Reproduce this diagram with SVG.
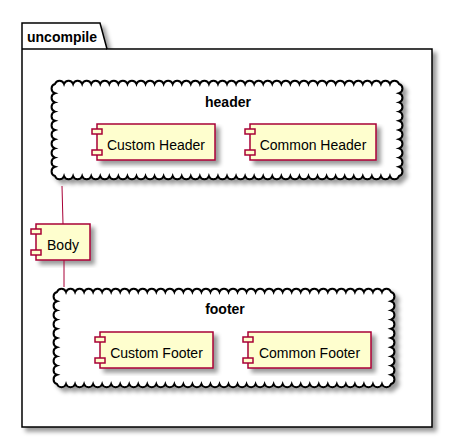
<svg xmlns="http://www.w3.org/2000/svg" width="453" height="438" viewBox="0 0 453 438">
<defs>
<filter id="sh" x="-10%" y="-10%" width="130%" height="130%">
<feGaussianBlur in="SourceAlpha" stdDeviation="2" result="b"/>
<feColorMatrix in="b" type="matrix" values="0 0 0 0 0  0 0 0 0 0  0 0 0 0 0  0 0 0 0.4 0" result="c"/>
<feOffset in="c" dx="4" dy="4" result="o"/>
<feMerge><feMergeNode in="o"/><feMergeNode in="SourceGraphic"/></feMerge>
</filter>
</defs>
<style>
.pkg{fill:#FFFFFF;stroke:#000000;stroke-width:1.5}
.cloud{fill:#FFFFFF;stroke:#000000;stroke-width:2}
.comp rect{fill:#FEFECE;stroke:#A80036;stroke-width:1.5}
.lbl{font-family:"Liberation Sans",Arial,sans-serif;font-size:14px;fill:#000000}
.ttl{font-family:"Liberation Sans",Arial,sans-serif;font-size:14px;font-weight:bold;fill:#000000}
.conn line{stroke:#A80036;stroke-width:1}
</style>

<g id="uncompile">
<path class="pkg" filter="url(#sh)" d="M22,23 H100 L107,49 H432 V427 H22 Z"/>
<line x1="22" y1="49" x2="107" y2="49" stroke="#000" stroke-width="1.5"/>
<text class="ttl" x="27" y="42">uncompile</text>
</g>

<g id="header">
<path class="cloud" filter="url(#sh)" d="M55,84
a4.8 4.8 0 0 1 9.053 0 a4.8 4.8 0 0 1 9.053 0 a4.8 4.8 0 0 1 9.053 0 a4.8 4.8 0 0 1 9.053 0 a4.8 4.8 0 0 1 9.053 0
a4.8 4.8 0 0 1 9.053 0 a4.8 4.8 0 0 1 9.053 0 a4.8 4.8 0 0 1 9.053 0 a4.8 4.8 0 0 1 9.053 0 a4.8 4.8 0 0 1 9.053 0
a4.8 4.8 0 0 1 9.053 0 a4.8 4.8 0 0 1 9.053 0 a4.8 4.8 0 0 1 9.053 0 a4.8 4.8 0 0 1 9.053 0 a4.8 4.8 0 0 1 9.053 0
a4.8 4.8 0 0 1 9.053 0 a4.8 4.8 0 0 1 9.053 0 a4.8 4.8 0 0 1 9.053 0 a4.8 4.8 0 0 1 9.053 0 a4.8 4.8 0 0 1 9.053 0
a4.8 4.8 0 0 1 9.053 0 a4.8 4.8 0 0 1 9.053 0 a4.8 4.8 0 0 1 9.053 0 a4.8 4.8 0 0 1 9.053 0 a4.8 4.8 0 0 1 9.053 0
a4.8 4.8 0 0 1 9.053 0 a4.8 4.8 0 0 1 9.053 0 a4.8 4.8 0 0 1 9.053 0 a4.8 4.8 0 0 1 9.053 0 a4.8 4.8 0 0 1 9.053 0
a4.8 4.8 0 0 1 9.053 0 a4.8 4.8 0 0 1 9.053 0 a4.8 4.8 0 0 1 9.053 0 a4.8 4.8 0 0 1 9.053 0 a4.8 4.8 0 0 1 9.053 0
a4.8 4.8 0 0 1 9.053 0 a4.8 4.8 0 0 1 9.053 0 a4.8 4.8 0 0 1 9.053 0
a4.8 4.8 0 0 1 0 9.2 a4.8 4.8 0 0 1 0 9.2 a4.8 4.8 0 0 1 0 9.2 a4.8 4.8 0 0 1 0 9.2 a4.8 4.8 0 0 1 0 9.2
a4.8 4.8 0 0 1 0 9.2 a4.8 4.8 0 0 1 0 9.2 a4.8 4.8 0 0 1 0 9.2 a4.8 4.8 0 0 1 0 9.2 a4.8 4.8 0 0 1 0 9.2
a4.8 4.8 0 0 1 -9.053 0 a4.8 4.8 0 0 1 -9.053 0 a4.8 4.8 0 0 1 -9.053 0 a4.8 4.8 0 0 1 -9.053 0 a4.8 4.8 0 0 1 -9.053 0
a4.8 4.8 0 0 1 -9.053 0 a4.8 4.8 0 0 1 -9.053 0 a4.8 4.8 0 0 1 -9.053 0 a4.8 4.8 0 0 1 -9.053 0 a4.8 4.8 0 0 1 -9.053 0
a4.8 4.8 0 0 1 -9.053 0 a4.8 4.8 0 0 1 -9.053 0 a4.8 4.8 0 0 1 -9.053 0 a4.8 4.8 0 0 1 -9.053 0 a4.8 4.8 0 0 1 -9.053 0
a4.8 4.8 0 0 1 -9.053 0 a4.8 4.8 0 0 1 -9.053 0 a4.8 4.8 0 0 1 -9.053 0 a4.8 4.8 0 0 1 -9.053 0 a4.8 4.8 0 0 1 -9.053 0
a4.8 4.8 0 0 1 -9.053 0 a4.8 4.8 0 0 1 -9.053 0 a4.8 4.8 0 0 1 -9.053 0 a4.8 4.8 0 0 1 -9.053 0 a4.8 4.8 0 0 1 -9.053 0
a4.8 4.8 0 0 1 -9.053 0 a4.8 4.8 0 0 1 -9.053 0 a4.8 4.8 0 0 1 -9.053 0 a4.8 4.8 0 0 1 -9.053 0 a4.8 4.8 0 0 1 -9.053 0
a4.8 4.8 0 0 1 -9.053 0 a4.8 4.8 0 0 1 -9.053 0 a4.8 4.8 0 0 1 -9.053 0 a4.8 4.8 0 0 1 -9.053 0 a4.8 4.8 0 0 1 -9.053 0
a4.8 4.8 0 0 1 -9.053 0 a4.8 4.8 0 0 1 -9.053 0 a4.8 4.8 0 0 1 -9.053 0
a4.8 4.8 0 0 1 0 -9.2 a4.8 4.8 0 0 1 0 -9.2 a4.8 4.8 0 0 1 0 -9.2 a4.8 4.8 0 0 1 0 -9.2 a4.8 4.8 0 0 1 0 -9.2
a4.8 4.8 0 0 1 0 -9.2 a4.8 4.8 0 0 1 0 -9.2 a4.8 4.8 0 0 1 0 -9.2 a4.8 4.8 0 0 1 0 -9.2 a4.8 4.8 0 0 1 0 -9.2 Z"/>
<text class="ttl" x="228" y="107" text-anchor="middle">header</text>
</g>

<g id="custom_header" class="comp">
<rect x="97" y="124" width="118" height="36" filter="url(#sh)"/>
<rect x="92" y="129" width="10" height="5"/>
<rect x="92" y="150" width="10" height="5"/>
<text class="lbl" x="156" y="150" text-anchor="middle">Custom Header</text>
</g>

<g id="common_header" class="comp">
<rect x="250" y="124" width="126" height="36" filter="url(#sh)"/>
<rect x="245" y="129" width="10" height="5"/>
<rect x="245" y="150" width="10" height="5"/>
<text class="lbl" x="313" y="150" text-anchor="middle">Common Header</text>
</g>

<g id="body" class="comp">
<rect x="36" y="224" width="54" height="36" filter="url(#sh)"/>
<rect x="31" y="229" width="10" height="5"/>
<rect x="31" y="250" width="10" height="5"/>
<text class="lbl" x="63" y="250" text-anchor="middle">Body</text>
</g>

<g id="footer">
<path class="cloud" filter="url(#sh)" d="M57,292
a4.8 4.8 0 0 1 9.027 0 a4.8 4.8 0 0 1 9.027 0 a4.8 4.8 0 0 1 9.027 0 a4.8 4.8 0 0 1 9.027 0 a4.8 4.8 0 0 1 9.027 0
a4.8 4.8 0 0 1 9.027 0 a4.8 4.8 0 0 1 9.027 0 a4.8 4.8 0 0 1 9.027 0 a4.8 4.8 0 0 1 9.027 0 a4.8 4.8 0 0 1 9.027 0
a4.8 4.8 0 0 1 9.027 0 a4.8 4.8 0 0 1 9.027 0 a4.8 4.8 0 0 1 9.027 0 a4.8 4.8 0 0 1 9.027 0 a4.8 4.8 0 0 1 9.027 0
a4.8 4.8 0 0 1 9.027 0 a4.8 4.8 0 0 1 9.027 0 a4.8 4.8 0 0 1 9.027 0 a4.8 4.8 0 0 1 9.027 0 a4.8 4.8 0 0 1 9.027 0
a4.8 4.8 0 0 1 9.027 0 a4.8 4.8 0 0 1 9.027 0 a4.8 4.8 0 0 1 9.027 0 a4.8 4.8 0 0 1 9.027 0 a4.8 4.8 0 0 1 9.027 0
a4.8 4.8 0 0 1 9.027 0 a4.8 4.8 0 0 1 9.027 0 a4.8 4.8 0 0 1 9.027 0 a4.8 4.8 0 0 1 9.027 0 a4.8 4.8 0 0 1 9.027 0
a4.8 4.8 0 0 1 9.027 0 a4.8 4.8 0 0 1 9.027 0 a4.8 4.8 0 0 1 9.027 0 a4.8 4.8 0 0 1 9.027 0 a4.8 4.8 0 0 1 9.027 0
a4.8 4.8 0 0 1 9.027 0 a4.8 4.8 0 0 1 9.027 0
a4.8 4.8 0 0 1 0 9.2 a4.8 4.8 0 0 1 0 9.2 a4.8 4.8 0 0 1 0 9.2 a4.8 4.8 0 0 1 0 9.2 a4.8 4.8 0 0 1 0 9.2
a4.8 4.8 0 0 1 0 9.2 a4.8 4.8 0 0 1 0 9.2 a4.8 4.8 0 0 1 0 9.2 a4.8 4.8 0 0 1 0 9.2 a4.8 4.8 0 0 1 0 9.2
a4.8 4.8 0 0 1 -9.027 0 a4.8 4.8 0 0 1 -9.027 0 a4.8 4.8 0 0 1 -9.027 0 a4.8 4.8 0 0 1 -9.027 0 a4.8 4.8 0 0 1 -9.027 0
a4.8 4.8 0 0 1 -9.027 0 a4.8 4.8 0 0 1 -9.027 0 a4.8 4.8 0 0 1 -9.027 0 a4.8 4.8 0 0 1 -9.027 0 a4.8 4.8 0 0 1 -9.027 0
a4.8 4.8 0 0 1 -9.027 0 a4.8 4.8 0 0 1 -9.027 0 a4.8 4.8 0 0 1 -9.027 0 a4.8 4.8 0 0 1 -9.027 0 a4.8 4.8 0 0 1 -9.027 0
a4.8 4.8 0 0 1 -9.027 0 a4.8 4.8 0 0 1 -9.027 0 a4.8 4.8 0 0 1 -9.027 0 a4.8 4.8 0 0 1 -9.027 0 a4.8 4.8 0 0 1 -9.027 0
a4.8 4.8 0 0 1 -9.027 0 a4.8 4.8 0 0 1 -9.027 0 a4.8 4.8 0 0 1 -9.027 0 a4.8 4.8 0 0 1 -9.027 0 a4.8 4.8 0 0 1 -9.027 0
a4.8 4.8 0 0 1 -9.027 0 a4.8 4.8 0 0 1 -9.027 0 a4.8 4.8 0 0 1 -9.027 0 a4.8 4.8 0 0 1 -9.027 0 a4.8 4.8 0 0 1 -9.027 0
a4.8 4.8 0 0 1 -9.027 0 a4.8 4.8 0 0 1 -9.027 0 a4.8 4.8 0 0 1 -9.027 0 a4.8 4.8 0 0 1 -9.027 0 a4.8 4.8 0 0 1 -9.027 0
a4.8 4.8 0 0 1 -9.027 0 a4.8 4.8 0 0 1 -9.027 0
a4.8 4.8 0 0 1 0 -9.2 a4.8 4.8 0 0 1 0 -9.2 a4.8 4.8 0 0 1 0 -9.2 a4.8 4.8 0 0 1 0 -9.2 a4.8 4.8 0 0 1 0 -9.2
a4.8 4.8 0 0 1 0 -9.2 a4.8 4.8 0 0 1 0 -9.2 a4.8 4.8 0 0 1 0 -9.2 a4.8 4.8 0 0 1 0 -9.2 a4.8 4.8 0 0 1 0 -9.2 Z"/>
<text class="ttl" x="225" y="314" text-anchor="middle">footer</text>
</g>

<g id="custom_footer" class="comp">
<rect x="100" y="332" width="113" height="36" filter="url(#sh)"/>
<rect x="95" y="337" width="10" height="5"/>
<rect x="95" y="358" width="10" height="5"/>
<text class="lbl" x="156.5" y="358" text-anchor="middle">Custom Footer</text>
</g>

<g id="common_footer" class="comp">
<rect x="248" y="332" width="123" height="36" filter="url(#sh)"/>
<rect x="243" y="337" width="10" height="5"/>
<rect x="243" y="358" width="10" height="5"/>
<text class="lbl" x="309.5" y="358" text-anchor="middle">Common Footer</text>
</g>

<g id="connectors" class="conn">
<line x1="62" y1="186" x2="63" y2="224"/>
<line x1="64" y1="260" x2="64" y2="287"/>
</g>
</svg>
